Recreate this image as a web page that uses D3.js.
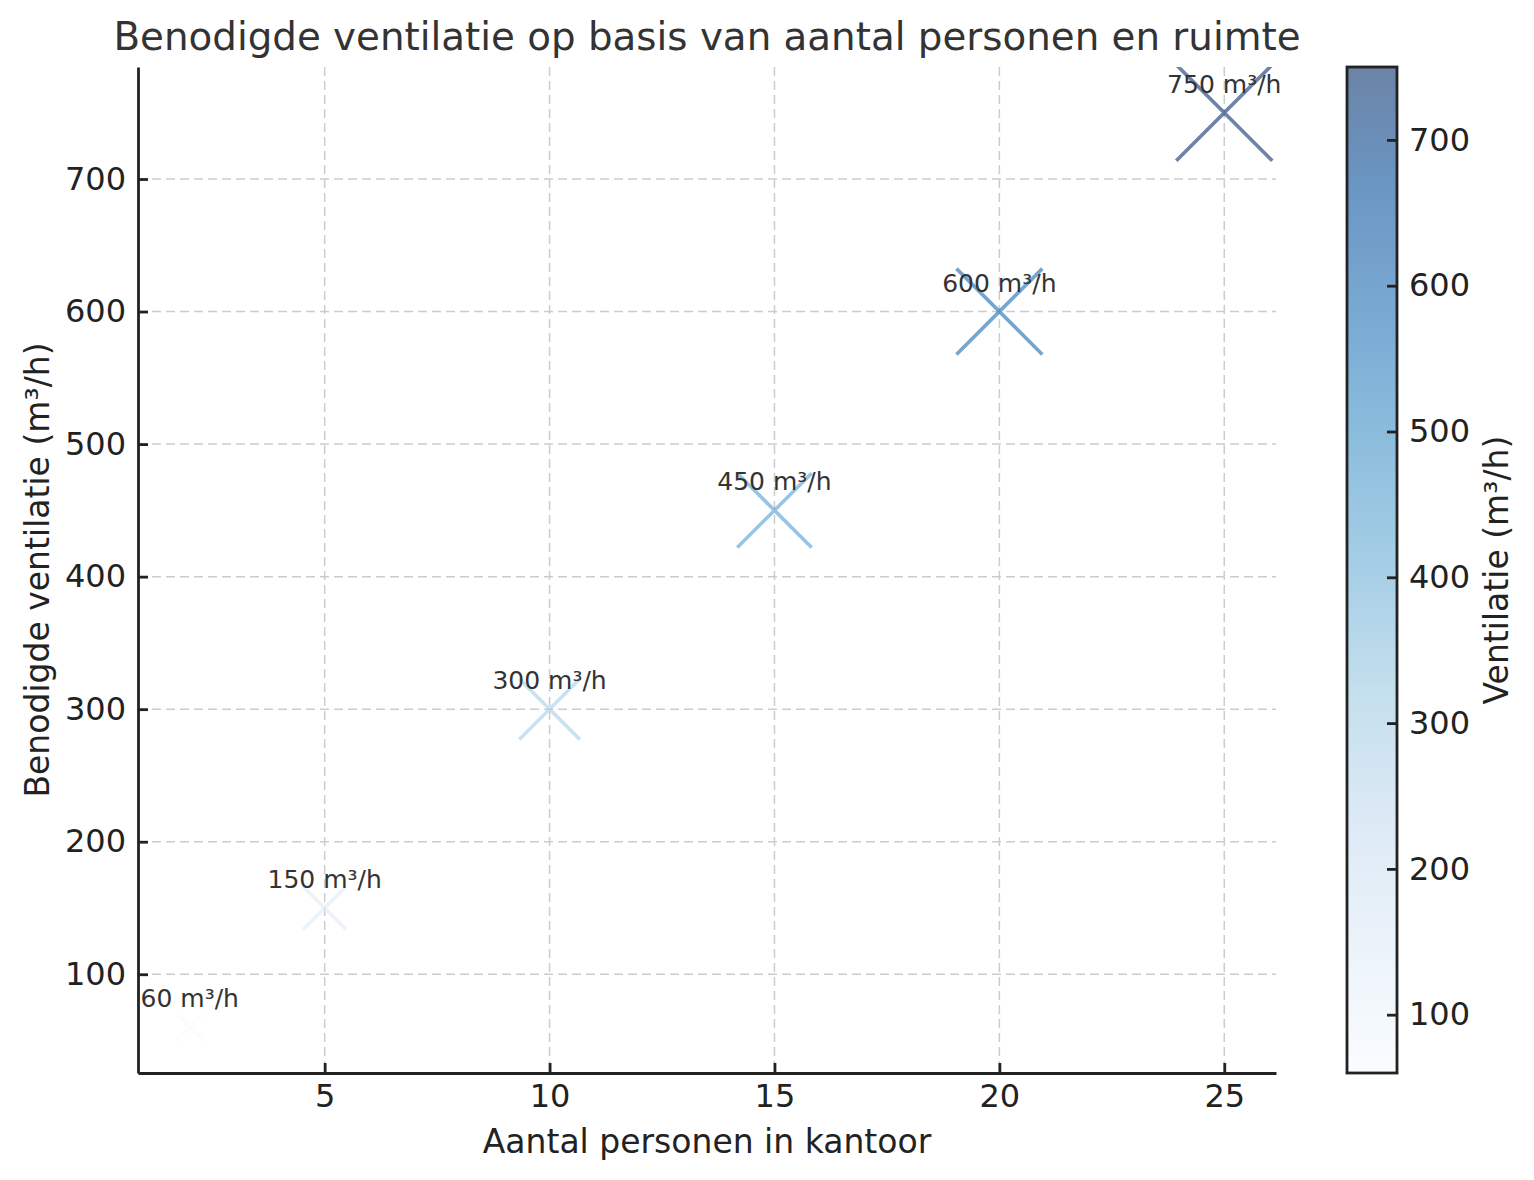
<!DOCTYPE html>
<html>
<head>
<meta charset="utf-8">
<script src="https://cdn.jsdelivr.net/npm/d3@7"></script>
<style>
  body { margin: 0; background: #fff; }
  svg { font-family: "DejaVu Sans", sans-serif; }
</style>
</head>
<body>
<svg id="chart"></svg>
<script>
// data
const personen = [2, 5, 10, 15, 20, 25];
const ventilatie = [60, 150, 300, 450, 600, 750];
const xTicks = [5, 10, 15, 20, 25];
const yTicks = [100, 200, 300, 400, 500, 600, 700];
const cbTicks = [100, 200, 300, 400, 500, 600, 700];

// matplotlib "Blues"
const blues = ["#f7fbff", "#deebf7", "#c6dbef", "#9ecae1", "#6baed6", "#4292c6", "#2171b5", "#08519c", "#08306b"];

const W = 1534, H = 1180;
const margin = { top: 67, left: 138, right: 1276, bottom: 1073 };

const svg = d3.select("#chart").attr("width", W).attr("height", H);

const x = d3.scaleLinear().domain([0.85, 26.15]).range([margin.left, margin.right]);
const y = d3.scaleLinear().domain([25.5, 784.5]).range([margin.bottom, margin.top]);

const vmin = d3.min(ventilatie), vmax = d3.max(ventilatie);
const norm = d3.scaleLinear().domain([vmin, vmax]).range([0, 1]);
const cmap = d3.scaleLinear()
  .domain(d3.range(blues.length).map(i => i / (blues.length - 1)))
  .range(blues);
const color = v => cmap(norm(v));

// marker size: area proportional to value
const size = d3.scaleSqrt().domain([0, 750]).range([0, 96]);

// grid
const grid = svg.append("g");
grid.selectAll("line.gx").data(xTicks).enter().append("line")
  .attr("x1", d => x(d)).attr("x2", d => x(d))
  .attr("y1", margin.top).attr("y2", margin.bottom)
  .attr("stroke", "#cccccc").attr("stroke-width", 1.5).attr("stroke-dasharray", "9,5");
grid.selectAll("line.gy").data(yTicks).enter().append("line")
  .attr("y1", d => y(d)).attr("y2", d => y(d))
  .attr("x1", margin.left).attr("x2", margin.right)
  .attr("stroke", "#cccccc").attr("stroke-width", 1.5).attr("stroke-dasharray", "9,5");

// clip for markers
svg.append("clipPath").attr("id", "plotclip").append("rect")
  .attr("x", margin.left).attr("y", margin.top)
  .attr("width", margin.right - margin.left).attr("height", margin.bottom - margin.top);

const points = personen.map((p, i) => ({ p, v: ventilatie[i] }));

// x markers
svg.append("g").attr("clip-path", "url(#plotclip)")
  .selectAll("path").data(points).enter().append("path")
  .attr("d", d => {
    const h = size(d.v) / 2, cx = x(d.p), cy = y(d.v);
    return `M${cx - h},${cy - h}L${cx + h},${cy + h}M${cx - h},${cy + h}L${cx + h},${cy - h}`;
  })
  .attr("fill", "none")
  .attr("stroke", d => color(d.v))
  .attr("stroke-opacity", 0.6)
  .attr("stroke-width", 3.6);

// annotations
svg.append("g").selectAll("text").data(points).enter().append("text")
  .attr("x", d => x(d.p)).attr("y", d => y(d.v + 15))
  .attr("text-anchor", "middle")
  .attr("font-size", 25).attr("fill", "#333333")
  .text(d => `${d.v} m³/h`);

// axes
const xAxis = svg.append("g").attr("transform", `translate(0,${margin.bottom})`)
  .call(d3.axisBottom(x).tickValues(xTicks).tickSizeInner(-10).tickSizeOuter(0).tickPadding(10));
const yAxis = svg.append("g").attr("transform", `translate(${margin.left},0)`)
  .call(d3.axisLeft(y).tickValues(yTicks).tickSizeInner(-10).tickSizeOuter(0).tickPadding(12));
[xAxis, yAxis].forEach(a => {
  a.select(".domain").attr("stroke", "#222").attr("stroke-width", 2.8);
  a.selectAll(".tick line").attr("stroke", "#222").attr("stroke-width", 2.8);
  a.selectAll(".tick text").attr("font-size", 32).attr("fill", "#222")
    .attr("font-family", "DejaVu Sans");
});
xAxis.selectAll(".tick text").attr("dy", "0.76em");

// title and labels
svg.append("text").attr("x", (margin.left + margin.right) / 2).attr("y", 50)
  .attr("text-anchor", "middle").attr("font-size", 38.8).attr("fill", "#333333")
  .text("Benodigde ventilatie op basis van aantal personen en ruimte");
svg.append("text").attr("x", (margin.left + margin.right) / 2).attr("y", 1153)
  .attr("text-anchor", "middle").attr("font-size", 33).attr("fill", "#222")
  .text("Aantal personen in kantoor");
svg.append("text")
  .attr("transform", `translate(49,${(margin.top + margin.bottom) / 2}) rotate(-90)`)
  .attr("text-anchor", "middle").attr("font-size", 33).attr("fill", "#222")
  .text("Benodigde ventilatie (m³/h)");

// colorbar
const cb = { x0: 1347, x1: 1397 };
const cbY = d3.scaleLinear().domain([vmin, vmax]).range([margin.bottom, margin.top]);
const grad = svg.append("defs").append("linearGradient").attr("id", "cbgrad")
  .attr("x1", 0).attr("y1", 1).attr("x2", 0).attr("y2", 0);
blues.forEach((c, i) => {
  grad.append("stop").attr("offset", i / (blues.length - 1)).attr("stop-color", c);
});
svg.append("rect").attr("x", cb.x0).attr("y", margin.top)
  .attr("width", cb.x1 - cb.x0).attr("height", margin.bottom - margin.top)
  .attr("fill", "url(#cbgrad)").attr("fill-opacity", 0.6);
const cbAxis = svg.append("g").attr("transform", `translate(${cb.x1},0)`)
  .call(d3.axisRight(cbY).tickValues(cbTicks).tickSizeInner(-10).tickSizeOuter(0).tickPadding(12));
cbAxis.select(".domain").remove();
cbAxis.selectAll(".tick line").attr("stroke", "#222").attr("stroke-width", 2.8);
cbAxis.selectAll(".tick text").attr("font-size", 32).attr("fill", "#222").attr("font-family", "DejaVu Sans");
svg.append("rect").attr("x", cb.x0).attr("y", margin.top)
  .attr("width", cb.x1 - cb.x0).attr("height", margin.bottom - margin.top)
  .attr("fill", "none").attr("stroke", "#222").attr("stroke-width", 2.8);
svg.append("text")
  .attr("transform", `translate(1508,${(margin.top + margin.bottom) / 2}) rotate(-90)`)
  .attr("text-anchor", "middle").attr("font-size", 33).attr("fill", "#222")
  .text("Ventilatie (m³/h)");
</script>
</body>
</html>
